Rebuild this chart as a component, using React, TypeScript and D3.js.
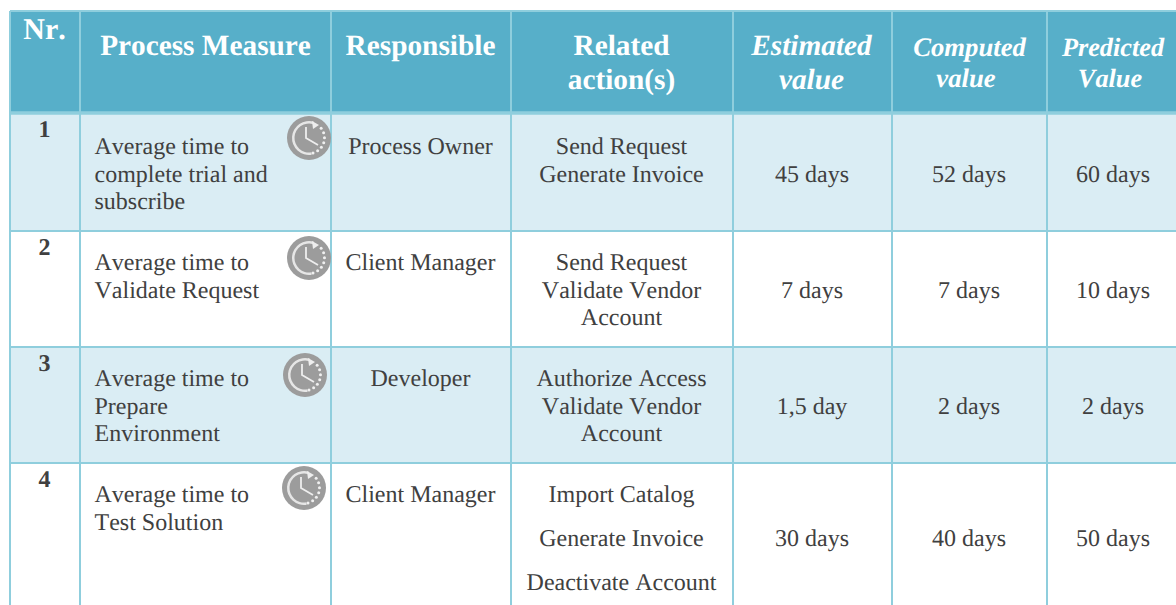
import React from "react";
import * as d3 from "d3";

const numbers = ["1", "2", "3", "4"];
const measures = [
  ["Average time to", "complete trial and", "subscribe"],
  ["Average time to", "Validate Request"],
  ["Average time to", "Prepare", "Environment"],
  ["Average time to", "Test Solution"],
];
const responsibles = ["Process Owner", "Client Manager", "Developer", "Client Manager"];
const actions = [
  ["Send Request", "Generate Invoice"],
  ["Send Request", "Validate Vendor", "Account"],
  ["Authorize Access", "Validate Vendor", "Account"],
  ["Import Catalog", "Generate Invoice", "Deactivate Account"],
];
const estimated = ["45 days", "7 days", "1,5 day", "30 days"];
const computed = ["52 days", "7 days", "2 days", "40 days"];
const predicted = ["60 days", "10 days", "2 days", "50 days"];

const columnKeys = ["nr", "measure", "responsible", "actions", "estimated", "computed", "predicted"];
const columnEdges = [10, 80, 331, 511, 733, 892, 1047, 1190];
const rowKeys = ["header", "r0", "r1", "r2", "r3"];
const rowEdges = [11, 112, 231, 347, 463, 640];
const clockX = [309, 309, 305, 304];
const clockY = [138, 258, 375, 488];
const textOffset = [42, 39, 39, 39];
const valueOffset = [70, 67, 67, 83];

const left = d3.scaleOrdinal<string, number>().domain(columnKeys).range(columnEdges);
const right = d3.scaleOrdinal<string, number>().domain(columnKeys).range(columnEdges.slice(1));
const top = d3.scaleOrdinal<string, number>().domain(rowKeys).range(rowEdges);
const bottom = d3.scaleOrdinal<string, number>().domain(rowKeys).range(rowEdges.slice(1));
const mid = (c: string) => (left(c) + right(c)) / 2 - 0.5;

const HEAD = "#57afc9";
const GRID = "#8fcedd";
const BAND = "#daedf4";
const INK = "#404040";
const SERIF = "'Liberation Serif', serif";

function Clock({ x, y }: { x: number; y: number }) {
  const arc = d3.arc()({ innerRadius: 14.5, outerRadius: 17, startAngle: 0.3, endAngle: -3.3 }) as string;
  const dots = d3.range(0.9, 3.2, 0.33);
  return (
    <g transform={`translate(${x},${y})`}>
      <circle r={22} fill="#9c9c9c" />
      <path d={arc} fill="#e6e6e6" />
      <path d="M3,-17 L10,-13 L4,-9 Z" fill="#eeeeee" />
      {dots.map((a) => (
        <circle key={a} cx={15.5 * Math.sin(a)} cy={-15.5 * Math.cos(a)} r={1.5} fill="#f0f0f0" />
      ))}
      <path d="M-3,-11 L-3,0 L9,7" fill="none" stroke="#eeeeee" strokeWidth={1.8} />
    </g>
  );
}

function Lines({ x, y, lines, step, anchor = "middle", size = 24 }: any) {
  return (
    <>
      {lines.map((t: string, i: number) => (
        <text key={i} x={x} y={y + i * step} textAnchor={anchor} fontSize={size} fill={INK}>
          {t}
        </text>
      ))}
    </>
  );
}

export default function App() {
  const rows = rowKeys.slice(1);
  return (
    <svg
      width={1176}
      height={605}
      style={{
        position: "absolute",
        left: 0,
        top: 0,
        fontFamily: SERIF,
        fontKerning: "none",
        textRendering: "geometricPrecision",
      }}
    >
      <rect width={1176} height={605} fill="#fff" />
      <rect x={10} y={top("header")} width={1180} height={bottom("header") - top("header")} fill={HEAD} />
      {rows.map((r, i) =>
        i % 2 === 0 ? (
          <rect key={r} x={10} y={top(r)} width={1180} height={bottom(r) - top(r)} fill={BAND} />
        ) : null
      )}
      {columnKeys.map((c) => (
        <line key={c} x1={left(c)} x2={left(c)} y1={top("header")} y2={605} stroke={GRID} strokeWidth={2} />
      ))}
      <line x1={10} x2={1190} y1={11} y2={11} stroke={GRID} strokeWidth={2} />
      <line x1={10} x2={1190} y1={113} y2={113} stroke={GRID} strokeWidth={3.5} />
      {rows.slice(1).map((r) => (
        <line key={r} x1={10} x2={1190} y1={top(r)} y2={top(r)} stroke={GRID} strokeWidth={2} />
      ))}

      <g fill="#fff" textAnchor="middle" fontWeight={700}>
        <text x={44.5} y={39} fontSize={30}>Nr.</text>
        <text x={205.5} y={55} fontSize={29.3}>Process Measure</text>
        <text x={420.5} y={55} fontSize={29.3}>Responsible</text>
        <text x={621.5} y={55} fontSize={29.3}>Related</text>
        <text x={621.5} y={89} fontSize={29.3}>action(s)</text>
      </g>
      <g fill="#fff" textAnchor="middle" fontWeight={700} fontStyle="italic">
        <text x={811.5} y={55} fontSize={29.3}>Estimated</text>
        <text x={811.5} y={89} fontSize={29.3}>value</text>
        <text x={969.5} y={56} fontSize={26.7}>Computed</text>
        <text x={966} y={87} fontSize={26.7}>value</text>
        <text x={1113} y={56} fontSize={26.3}>Predicted</text>
        <text x={1110} y={87} fontSize={26.3}>Value</text>
      </g>

      {rows.map((r, i) => {
        const t = top(r);
        const first = t + textOffset[i];
        const val = t + valueOffset[i];
        return (
          <g key={r}>
            <text x={44.5} y={t + (i === 0 ? 25 : 24)} textAnchor="middle" fontSize={24} fontWeight={700} fill={INK}>
              {numbers[i]}
            </text>
            <Lines x={94.5} y={first} lines={measures[i]} step={27.5} anchor="start" />
            <Clock x={clockX[i]} y={clockY[i]} />
            <Lines x={mid("responsible")} y={first} lines={[responsibles[i]]} step={27.5} />
            <Lines x={mid("actions")} y={first} lines={actions[i]} step={i === 3 ? 44 : 27.5} />
            <Lines x={mid("estimated")} y={val} lines={[estimated[i]]} step={0} />
            <Lines x={mid("computed")} y={val} lines={[computed[i]]} step={0} />
            <Lines x={1113} y={val} lines={[predicted[i]]} step={0} />
          </g>
        );
      })}
    </svg>
  );
}
